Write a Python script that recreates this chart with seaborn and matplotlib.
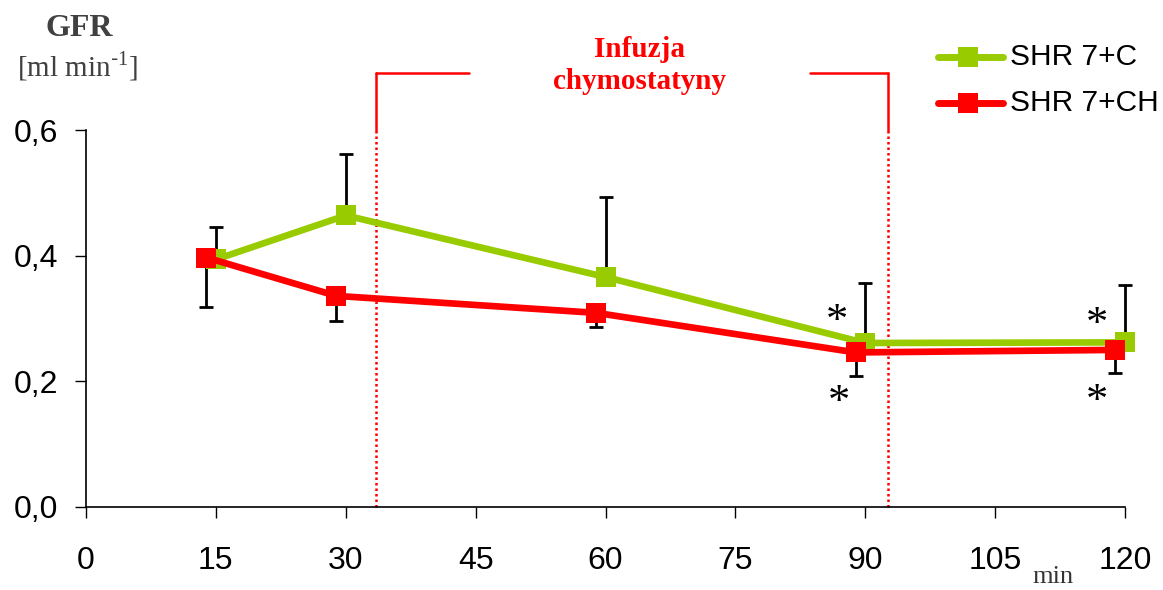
import matplotlib
matplotlib.use("Agg")
import matplotlib.pyplot as plt
import seaborn as sns
import pandas as pd
import numpy as np
from matplotlib.lines import Line2D

# ---- data ----
time_min = [15, 30, 60, 90, 120]
gfr_c = [0.394, 0.464, 0.366, 0.261, 0.262]
gfr_ch = [0.397, 0.336, 0.309, 0.246, 0.250]
sd_c = [0.051, 0.098, 0.128, 0.096, 0.092]
sd_ch = [0.079, 0.040, 0.023, 0.038, 0.036]
series_names = ["SHR 7+C", "SHR 7+CH"]
x_ticks = [0, 15, 30, 45, 60, 75, 90, 105, 120]
y_ticks = [0.0, 0.2, 0.4, 0.6]
y_tick_labels = ["0,0", "0,2", "0,4", "0,6"]
infusion_start, infusion_end = 33.5, 92.6

# ---- style ----
GREEN = "#99cc00"
RED = "#ff0000"
ch_offset = -1.1  # visual dodge of the CH series
SERIF = ["Liberation Serif", "DejaVu Serif"]

sns.set_theme(style="ticks")
plt.rcParams["font.family"] = ["Liberation Sans", "DejaVu Sans"]

df = pd.DataFrame({
    "t": list(time_min) * 2,
    "gfr": gfr_c + gfr_ch,
    "group": [series_names[0]] * 5 + [series_names[1]] * 5,
})
df["tp"] = df["t"] + np.where(df["group"] == series_names[1], ch_offset, 0.0)

fig = plt.figure(figsize=(11.63, 5.90), dpi=100)
ax = fig.add_axes([86 / 1163, 1 - 507 / 590, (1125 - 86) / 1163, (507 - 130) / 590])

# error bars (one-sided)
tc = np.array(time_min, dtype=float)
ax.errorbar(tc, gfr_c, yerr=[np.zeros(5), sd_c], fmt="none", ecolor="black",
            elinewidth=2, capsize=5, capthick=2, zorder=2, clip_on=False)
ax.errorbar(tc + ch_offset, gfr_ch, yerr=[sd_ch, np.zeros(5)], fmt="none", ecolor="black",
            elinewidth=2, capsize=5, capthick=2, zorder=2, clip_on=False)

sns.lineplot(data=df, x="tp", y="gfr", hue="group", palette=[GREEN, RED],
             hue_order=series_names, marker="s", markersize=15, markeredgewidth=0,
             linewidth=4.8, ax=ax, legend=False, zorder=3, clip_on=False)

ax.set_xlim(0, 120)
ax.set_ylim(0, 0.6)
ax.set_xticks(x_ticks)
ax.set_xticklabels([str(v) for v in x_ticks])
ax.set_yticks(y_ticks)
ax.set_yticklabels(y_tick_labels)
ax.set_xlabel("")
ax.set_ylabel("")
ax.tick_params(axis="x", direction="out", length=8, width=1, labelsize=23, pad=20,
               color="black", labelcolor="black")
ax.tick_params(axis="y", direction="out", length=8, width=1, labelsize=23, pad=12,
               color="black", labelcolor="black")
for s in ["top", "right"]:
    ax.spines[s].set_visible(False)
for s in ["left", "bottom"]:
    ax.spines[s].set_color("black")
    ax.spines[s].set_linewidth(1.2)

# infusion markers
for xv in (infusion_start, infusion_end):
    ax.plot([xv, xv], [0, 0.6], color=RED, lw=1.8, ls=(0, (1, 1.2)), zorder=1, clip_on=False)
    ax.plot([xv, xv], [0.6, 0.69], color=RED, lw=1.8, zorder=1, clip_on=False)
ax.plot([infusion_start, 44.2], [0.69, 0.69], color=RED, lw=1.8, clip_on=False)
ax.plot([83.6, infusion_end], [0.69, 0.69], color=RED, lw=1.8, clip_on=False)
ax.text(63.9, 0.703, "Infuzja\nchymostatyny", color=RED, fontsize=21, fontweight="bold",
        family=SERIF, ha="center", va="center", linespacing=1.25)

# asterisks
for (xa, ya) in [(86.7, 0.295), (87.0, 0.165), (116.8, 0.29), (116.8, 0.167)]:
    ax.text(xa, ya, "*", fontsize=32, family=SERIF, ha="center", va="center", color="black")

# axis titles
fig.text(79 / 1163, 1 - 28 / 590, "GFR", fontsize=23, fontweight="bold", color="#404040",
         family=SERIF, ha="center", va="center")
fig.text(78 / 1163, 1 - 66 / 590, r"[ml min$^{\mathregular{\text{-}1}}$]", fontsize=21,
         color="#404040", family=SERIF, ha="center", va="center")
fig.text(1053 / 1163, 1 - 583 / 590, "min", fontsize=19, color="#333333",
         family=SERIF, ha="center", va="baseline")

# legend (drawn manually in figure pixels)
for name, c, ypx in zip(series_names, (GREEN, RED), (57, 103)):
    yf = 1 - ypx / 590
    fig.add_artist(Line2D([938 / 1163, 1003 / 1163], [yf, yf], color=c, lw=5,
                          solid_capstyle="round", transform=fig.transFigure))
    fig.add_artist(Line2D([968 / 1163], [yf], color=c, marker="s", markersize=15,
                          markeredgewidth=0, transform=fig.transFigure))
    fig.text(1010 / 1163, yf, name, fontsize=21.5, color="black", ha="left", va="center")

fig.savefig("out.png", dpi=100)
